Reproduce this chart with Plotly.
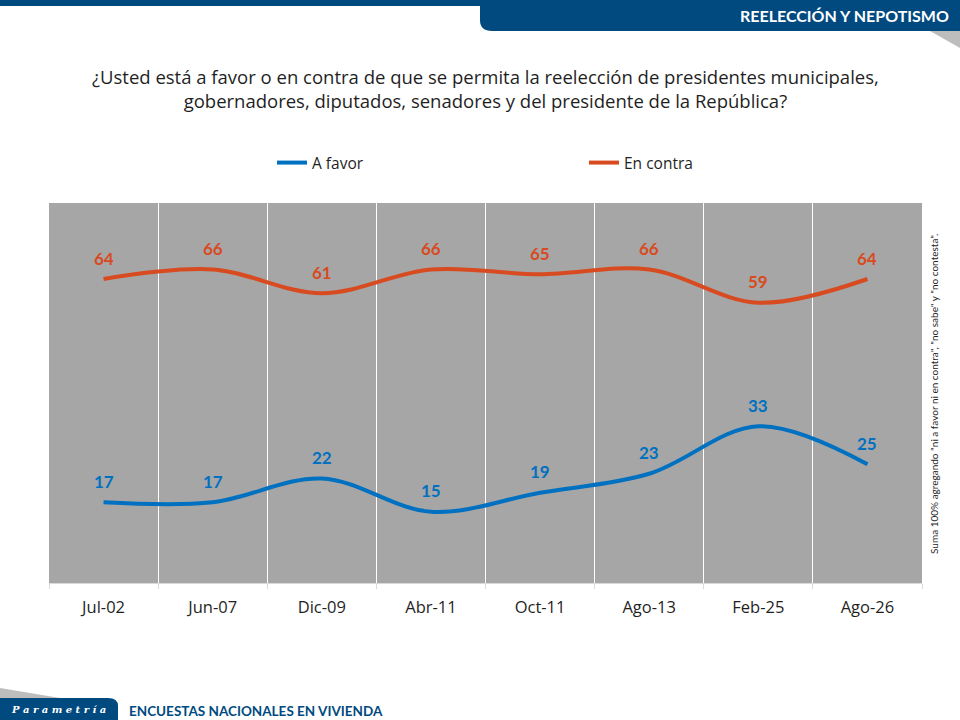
import plotly.graph_objects as go

# data
periodos = ["Jul-02", "Jun-07", "Dic-09", "Abr-11", "Oct-11", "Ago-13", "Feb-25", "Ago-26"]
a_favor = [17, 17, 22, 15, 19, 23, 33, 25]
en_contra = [64, 66, 61, 66, 65, 66, 59, 64]

AZUL = "#0070C0"
NARANJA = "#D84A1F"
MARCO = "#004A80"
FUENTE = "Lato"
TEXTO = "Open Sans"

# plot area in pixels
L, R, T, B = 49, 922, 203, 583


def px(x):
    return (x - L) / (R - L)


def py(y):
    return (B - y) / (B - T)


fig = go.Figure()

fig.add_trace(go.Scatter(
    x=periodos, y=a_favor, name="A favor", mode="lines", legend="legend",
    line=dict(color=AZUL, width=4, shape="spline", smoothing=1),
))
fig.add_trace(go.Scatter(
    x=periodos, y=en_contra, name="En contra", mode="lines", legend="legend2",
    line=dict(color=NARANJA, width=4, shape="spline", smoothing=1),
))

# data labels
annotations = []
for serie, color in ((a_favor, AZUL), (en_contra, NARANJA)):
    for p, v in zip(periodos, serie):
        annotations.append(dict(
            x=p, y=v, text=f"<b>{v}</b>", showarrow=False, yshift=21,
            font=dict(family=FUENTE, size=17, color=color),
        ))

annotations += [
    dict(xref="paper", yref="paper", x=0.5, y=py(88), xanchor="center", yanchor="middle",
         text="¿Usted está a favor o en contra de que se permita la reelección de presidentes municipales,"
              "<br>gobernadores, diputados, senadores y del presidente de la República?",
         showarrow=False, align="center",
         font=dict(family=TEXTO, size=18.5, color="#1F1F1F")),
    dict(xref="paper", yref="paper", x=px(951), y=py(16), xanchor="right", yanchor="middle",
         text="<b>REELECCIÓN Y NEPOTISMO</b>", showarrow=False,
         font=dict(family=FUENTE, size=16, color="white")),
    dict(xref="paper", yref="paper", x=px(934), y=py(394), xanchor="center", yanchor="middle",
         text='Suma 100% agregando "ni a favor ni en contra", "no sabe" y "no contesta".',
         textangle=-90, showarrow=False,
         font=dict(family=FUENTE, size=10, color="#1F1F1F")),
    dict(xref="paper", yref="paper", x=px(127), y=py(711), xanchor="left", yanchor="middle",
         text="<b>ENCUESTAS NACIONALES EN VIVIENDA</b>", showarrow=False,
         font=dict(family=FUENTE, size=13.5, color=MARCO)),
    dict(xref="paper", yref="paper", x=px(58), y=py(709), xanchor="center", yanchor="middle",
         text="<b><i>P a r a m e t r í a</i></b>", showarrow=False,
         font=dict(family="DejaVu Serif", size=10, color="white")),
]

shapes = [
    # thin top band
    dict(type="rect", xref="paper", yref="paper", x0=px(0), x1=px(960), y0=py(0), y1=py(6),
         fillcolor=MARCO, line_width=0, layer="above"),
    # header tab with rounded bottom-left corner
    dict(type="path", xref="paper", yref="paper", layer="above",
         path=(f"M {px(480)},{py(0)} L {px(960)},{py(0)} L {px(960)},{py(31)} "
               f"L {px(492)},{py(31)} Q {px(480)},{py(31)} {px(480)},{py(20)} Z"),
         fillcolor=MARCO, line_width=0),
    # shadow under the tab
    dict(type="path", xref="paper", yref="paper", layer="above",
         path=f"M {px(930)},{py(31)} L {px(960)},{py(31)} L {px(960)},{py(48)} Z",
         fillcolor="#BDBDBD", line_width=0),
    # bottom logo
    dict(type="path", xref="paper", yref="paper", layer="above",
         path=f"M {px(0)},{py(688)} L {px(60)},{py(698)} L {px(0)},{py(698)} Z",
         fillcolor="#BDBDBD", line_width=0),
    dict(type="path", xref="paper", yref="paper", layer="above",
         path=(f"M {px(0)},{py(698)} L {px(108)},{py(698)} Q {px(118)},{py(698)} {px(118)},{py(706)} "
               f"L {px(118)},{py(720)} L {px(0)},{py(720)} Z"),
         fillcolor=MARCO, line_width=0),
]

leyenda = dict(
    orientation="h", yanchor="middle", y=py(163), xanchor="left",
    font=dict(family=TEXTO, size=15.5, color="#1F1F1F"),
    bgcolor="rgba(0,0,0,0)", itemwidth=30,
)

fig.update_layout(
    width=960, height=720,
    margin=dict(l=L, r=960 - R, t=T, b=720 - B),
    paper_bgcolor="white",
    plot_bgcolor="#A6A6A6",
    font=dict(family=TEXTO, size=15, color="#1F1F1F"),
    showlegend=True,
    legend=dict(leyenda, x=px(272)),
    legend2=dict(leyenda, x=px(584)),
    xaxis=dict(
        type="category", range=[-0.5, 7.5], tickson="boundaries",
        showgrid=True, gridcolor="white", gridwidth=1,
        ticks="outside", ticklen=5, tickcolor="#D9D9D9",
        showline=True, linecolor="#D9D9D9", linewidth=1,
        ticklabelstandoff=9,
        tickfont=dict(family=TEXTO, size=16.5, color="#1F1F1F"),
        fixedrange=True,
    ),
    yaxis=dict(
        range=[0, 80], showgrid=False, zeroline=False, showticklabels=False,
        ticks="", fixedrange=True,
    ),
    annotations=annotations,
    shapes=shapes,
)

fig.write_html("out.html", config={"displayModeBar": False},
               post_script="document.body.style.margin='0';")
